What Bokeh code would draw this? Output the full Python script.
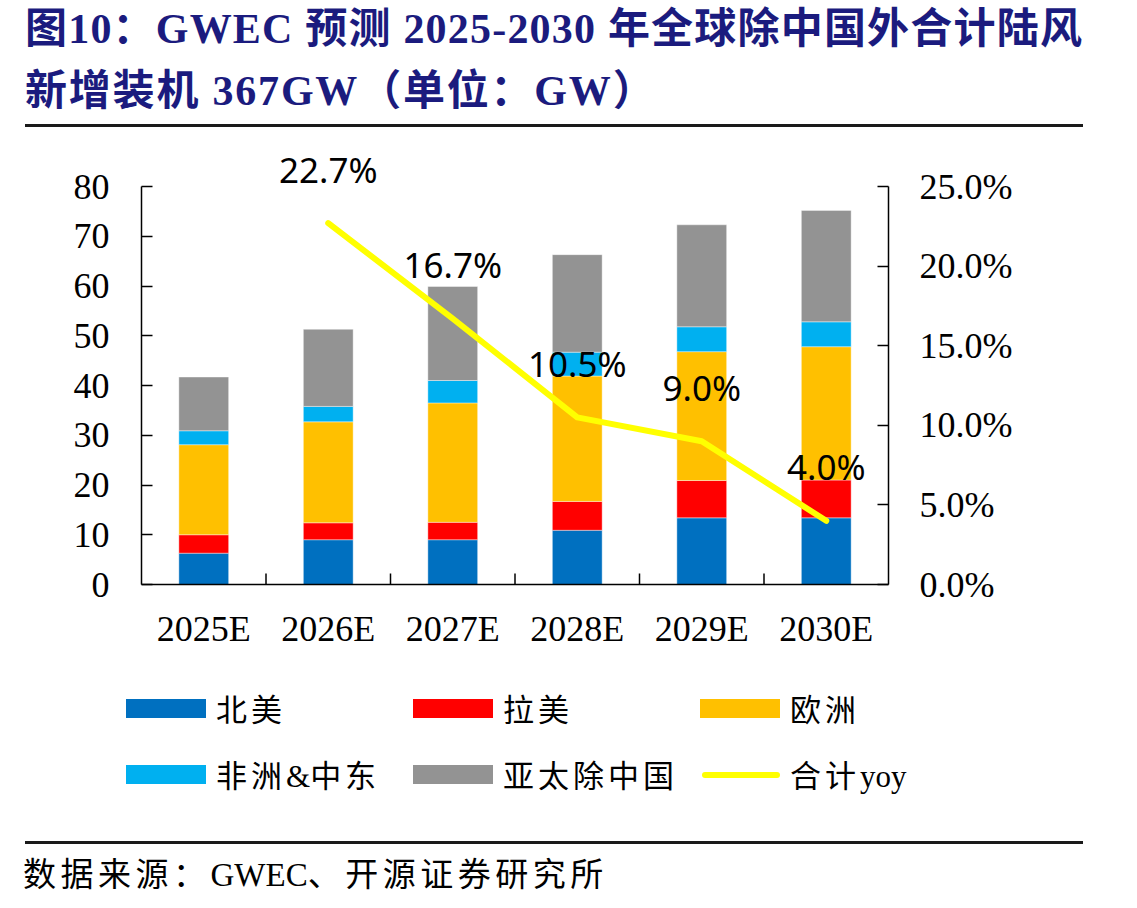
import math
import re
from bokeh.plotting import figure
from bokeh.layouts import column
from bokeh.models import (FactorRange, Range1d, LinearAxis, FixedTicker,
                          NumeralTickFormatter, ColumnDataSource, Div)
from bokeh.core.properties import value
from bokeh.embed import file_html
from bokeh.resources import INLINE

# ---------------- data ----------------
categories = ["2025E", "2026E", "2027E", "2028E", "2029E", "2030E"]
north_america = [6.3, 9.0, 9.0, 10.9, 13.4, 13.4]
latin_america = [3.7, 3.4, 3.5, 5.8, 7.5, 7.6]
europe = [18.1, 20.3, 24.0, 25.2, 25.9, 26.8]
africa_me = [2.8, 3.1, 4.5, 4.8, 5.0, 5.0]
apac_ex_china = [10.8, 15.5, 18.9, 19.6, 20.5, 22.4]
series_names = ["北美", "拉美", "欧洲", "非洲&中东", "亚太除中国"]
line_name = "合计yoy"
yoy_years = ["2026E", "2027E", "2028E", "2029E", "2030E"]
yoy = [0.227, 0.167, 0.105, 0.090, 0.040]
y_max = 80
pct_max = 0.25
y_ticks = [0, 10, 20, 30, 40, 50, 60, 70, 80]
pct_ticks = [0.0, 0.05, 0.10, 0.15, 0.20, 0.25]
title_lines = ["图10：GWEC 预测 2025-2030 年全球除中国外合计陆风",
               "新增装机 367GW（单位：GW）"]
source_text = "数据来源：GWEC、开源证券研究所"

# ---------------- styles / layout ----------------
colors = ["#0070C0", "#FF0000", "#FFC000", "#00B0F0", "#939393"]
line_color = "#FFFF00"
title_color = "#1B1B7E"
rule_color = "#1a1a1a"
css_font = "'Liberation Serif', 'Noto Sans CJK SC', serif"
tick_font = "Liberation Serif"

W = 1137
HEAD_H = 140          # canvas 0..140
FOOT_TOP = 680        # canvas 680..908
FOOT_H = 908 - FOOT_TOP
MAIN_H = FOOT_TOP - HEAD_H
FL, FR = 141, 888     # frame left/right (canvas px)
AX_TOP, AX_BOT = 186, 584   # canvas px of y=80 and y=0
scale_ext = (AX_BOT - HEAD_H) / (AX_BOT - AX_TOP)


def tight_latin(txt):
    """Escape & and keep Latin runs without the CJK letter spacing."""
    out = txt.replace("&", "\x00")
    out = re.sub(r"([A-Za-z\x00]+)",
                 lambda m: '<span style="letter-spacing:0">' + m.group(1) + "</span>", out)
    return out.replace("\x00", "&amp;")


def abs_text(txt, left, cy, size, lh, extra=""):
    return (f'<div style="position:absolute;left:{left}px;top:{cy - lh / 2}px;'
            f'height:{lh}px;line-height:{lh}px;font-size:{size}px;white-space:nowrap;{extra}">'
            f'{txt}</div>')


def abs_box(left, top, w, h, color, extra=""):
    return (f'<div style="position:absolute;left:{left}px;top:{top}px;width:{w}px;'
            f'height:{h}px;background:{color};{extra}"></div>')


def container(inner, h):
    return (f'<div style="position:relative;width:{W}px;height:{h}px;margin:0;padding:0;'
            f'font-family:{css_font};color:black;background:white;overflow:hidden">{inner}</div>')


# ---------------- header ----------------
head_inner = (abs_text(title_lines[0], 25, 29, 42, 48,
                       f"font-weight:bold;color:{title_color};letter-spacing:1.2px")
              + abs_text(title_lines[1], 25, 91, 42, 48,
                         f"font-weight:bold;color:{title_color};letter-spacing:1.8px")
              + abs_box(25, 124, 1058, 2.5, rule_color))
head = Div(text=container(head_inner, HEAD_H), width=W, height=HEAD_H,
           margin=(0, 0, 0, 0))

# ---------------- main chart ----------------
src = ColumnDataSource(dict(cat=categories, s0=north_america, s1=latin_america,
                            s2=europe, s3=africa_me, s4=apac_ex_china))
ysrc = ColumnDataSource(dict(cat=yoy_years, v=yoy,
                             lab=[f"{v*100:.1f}%" for v in yoy]))

p = figure(x_range=FactorRange(factors=categories, range_padding=0, factor_padding=0),
           y_range=Range1d(0, y_max * scale_ext), width=W, height=MAIN_H,
           output_backend="svg", toolbar_location=None,
           min_border_left=FL, min_border_right=W - FR,
           min_border_top=0, min_border_bottom=FOOT_TOP - AX_BOT,
           margin=(0, 0, 0, 0))
p.extra_y_ranges = {"pct": Range1d(0, pct_max * scale_ext)}
p.outline_line_color = None
p.xgrid.visible = False
p.ygrid.visible = False
p.background_fill_color = "white"
p.border_fill_color = "white"

p.vbar_stack(["s0", "s1", "s2", "s3", "s4"], x="cat", width=0.4, color=colors,
             line_color="white", line_width=0.4, source=src)

p.line(x="cat", y="v", source=ysrc, y_range_name="pct", line_color=line_color,
       line_width=6, line_join="round", line_cap="round")
p.text(x="cat", y="v", text="lab", source=ysrc, y_range_name="pct",
       text_font=value("Noto Sans"), text_font_size="35px", text_color="black",
       text_align="center", text_baseline="middle", y_offset=-54)

# category boundary ticks (inside)
bounds = list(range(1, len(categories)))
p.ray(x=bounds, y=[0] * len(bounds), length=11, angle=math.pi / 2,
      length_units="screen", line_color="black", line_width=1.5)

xa = p.xaxis[0]
xa.major_tick_line_color = None
xa.minor_tick_line_color = None
xa.axis_line_width = 1.5
xa.axis_line_color = "black"
xa.major_label_text_font = tick_font
xa.major_label_text_font_size = "36px"
xa.major_label_text_color = "black"
xa.major_label_standoff = 18

ya = p.yaxis[0]
ya.ticker = FixedTicker(ticks=y_ticks)
ya.bounds = (0, y_max)
ya.major_tick_in = 11
ya.major_tick_out = 0
ya.minor_tick_line_color = None
ya.axis_line_width = 1.5
ya.major_tick_line_width = 1.5
ya.major_label_text_font = tick_font
ya.major_label_text_font_size = "36px"
ya.major_label_text_color = "black"
ya.major_label_standoff = 32

ra = LinearAxis(y_range_name="pct", ticker=FixedTicker(ticks=pct_ticks),
                formatter=NumeralTickFormatter(format="0.0%"), bounds=(0, pct_max))
ra.major_tick_in = 11
ra.major_tick_out = 0
ra.minor_tick_line_color = None
ra.axis_line_width = 1.5
ra.major_tick_line_width = 1.5
ra.major_label_text_font = tick_font
ra.major_label_text_font_size = "36px"
ra.major_label_text_color = "black"
ra.major_label_standoff = 31
p.add_layout(ra, "right")

# ---------------- footer: legend + source ----------------
col_x = [126, 413, 700]
row_y = [708.5 - FOOT_TOP, 774.5 - FOOT_TOP]
leg_style = "letter-spacing:4px"
foot_inner = ""
for i, name in enumerate(series_names):
    cx = col_x[i % 3]
    cy = row_y[i // 3]
    foot_inner += abs_box(cx, cy - 9.5, 80, 19, colors[i])
    foot_inner += abs_text(tight_latin(name), cx + 90, cy + 2, 31, 36, leg_style)
lcx, lcy = col_x[2], row_y[1]
foot_inner += abs_box(lcx + 2, lcy - 3, 78, 6, line_color, "border-radius:3px")
foot_inner += abs_text(tight_latin(line_name), lcx + 90, lcy + 2, 31, 36, leg_style)
foot_inner += abs_box(25, 841 - FOOT_TOP, 1058, 2.5, rule_color)
foot_inner += abs_text(tight_latin(source_text), 23, 875 - FOOT_TOP, 33, 38,
                       "letter-spacing:4.5px")
foot = Div(text=container(foot_inner, FOOT_H), width=W, height=FOOT_H,
           margin=(0, 0, 0, 0))

layout = column(head, p, foot, spacing=0)
open("out.html", "w").write(file_html(layout, INLINE))
